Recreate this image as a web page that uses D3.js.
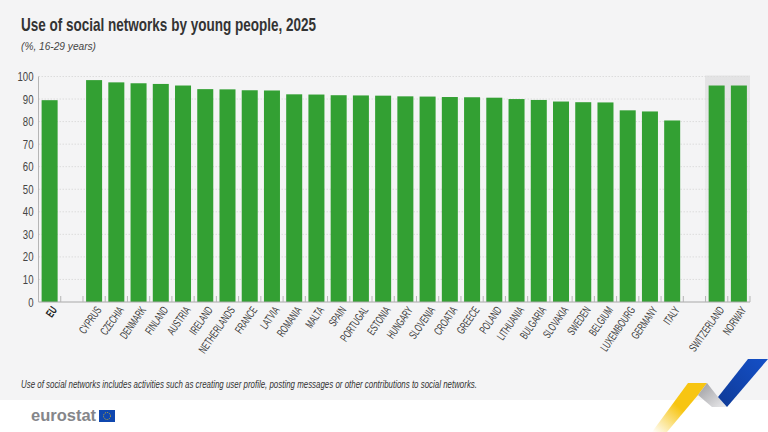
<!DOCTYPE html>
<html lang="en">
  <head>
    <meta charset="utf-8" />
    <title>Use of social networks by young people, 2025</title>
    <script src="https://d3js.org/d3.v7.min.js"></script>
    <style>
      body { margin: 0; background: #fff; }
      svg { display: block; font-family: "Liberation Sans", sans-serif; }
      .y-axis path, .y-axis line { display: none; }
      .x-axis path, .x-axis line { display: none; }
      .y-axis text { font-size: 12px; fill: #444; }
      .x-axis text { font-size: 11.5px; fill: #3c3c3c; }
    </style>
  </head>
  <body>
    <div id="chart"></div>
    <script>
      /* ---- data ---- */
      const categories = ['EU', '', 'CYPRUS', 'CZECHIA', 'DENMARK', 'FINLAND', 'AUSTRIA', 'IRELAND',
        'NETHERLANDS', 'FRANCE', 'LATVIA', 'ROMANIA', 'MALTA', 'SPAIN', 'PORTUGAL', 'ESTONIA',
        'HUNGARY', 'SLOVENIA', 'CROATIA', 'GREECE', 'POLAND', 'LITHUANIA', 'BULGARIA', 'SLOVAKIA',
        'SWEDEN', 'BELGIUM', 'LUXEMBOURG', 'GERMANY', 'ITALY', ' ', 'SWITZERLAND', 'NORWAY'];
      const values = [89.5, null, 98.4, 97.4, 97, 96.7, 96, 94.4,
        94.3, 93.9, 93.8, 92.1, 92, 91.7, 91.6, 91.5,
        91.2, 91.1, 90.9, 90.8, 90.6, 90, 89.6, 88.9,
        88.6, 88.5, 85, 84.5, 80.5, null, 96, 96];
      const yTicks = [0, 10, 20, 30, 40, 50, 60, 70, 80, 90, 100];
      const nonEu = ['SWITZERLAND', 'NORWAY'];

      const svgW = 768, svgH = 432;
      const svg = d3.select('#chart').append('svg').attr('width', svgW).attr('height', svgH);

      const defs = svg.append('defs');
      function grad(id, x1, y1, x2, y2, stops) {
        const g = defs.append('linearGradient').attr('id', id)
          .attr('x1', x1).attr('y1', y1).attr('x2', x2).attr('y2', y2);
        stops.forEach(s => g.append('stop').attr('offset', s[0]).attr('stop-color', s[1]).attr('stop-opacity', s[2]));
      }
      grad('gold', 1, 0, 0, 1, [[0, '#f7c512', 1], [0.5, '#f7c512', 1], [1, '#f7c512', 0]]);
      grad('grey', 0, 0, 1, 1, [[0, '#9a9a9e', 1], [1, '#ececee', 1]]);
      grad('blue', 1, 0, 0, 1, [[0, '#1450c8', 1], [1, '#0f3a96', 1]]);
      grad('band', 0, 0, 0, 1, [[0, '#e3e3e4', 1], [0.35, '#e9e9ea', 1], [1, '#f1f1f2', 1]]);

      /* background panel */
      svg.append('rect').attr('width', svgW).attr('height', 400).attr('fill', '#f4f4f5');

      /* ---- scales ---- */
      const x = d3.scaleBand().domain(categories).range([38.5, 750]).paddingInner(0.28).paddingOuter(0.14);
      const y = d3.scaleLinear().domain([0, 100]).range([302, 76.5]);
      const step = x.step();
      const edge = i => 38.5 + i * step;

      /* grey band behind non-EU countries */
      svg.append('rect')
        .attr('x', edge(categories.indexOf(nonEu[0])) - 0.5)
        .attr('y', y(100) - 1)
        .attr('width', 750 - edge(categories.indexOf(nonEu[0])) + 0.5)
        .attr('height', y(0) - y(100) + 1)
        .attr('fill', 'url(#band)');

      /* gridlines */
      svg.append('g').selectAll('line')
        .data(yTicks.filter(d => d > 0))
        .join('line')
        .attr('x1', 38.5).attr('x2', 750)
        .attr('y1', d => y(d)).attr('y2', d => y(d))
        .attr('stroke', '#dcdcdc').attr('stroke-dasharray', '1.5,1.5');

      /* bars */
      svg.append('g').selectAll('rect')
        .data(categories.map((c, i) => ({ c, v: values[i] })).filter(d => d.v !== null))
        .join('rect')
        .attr('x', d => x(d.c))
        .attr('width', x.bandwidth())
        .attr('y', d => y(d.v))
        .attr('height', d => y(0) - y(d.v))
        .attr('fill', '#33a033');

      /* axes */
      svg.append('g').attr('class', 'y-axis')
        .attr('transform', 'translate(38.5,0)')
        .call(d3.axisLeft(y).tickValues(yTicks).tickSize(0))
        .selectAll('text')
        .attr('x', 0)
        .attr('dy', '0.34em')
        .attr('transform', 'translate(-5,0) scale(0.8,1)');
      svg.append('line').attr('x1', 38.5).attr('x2', 38.5).attr('y1', y(100)).attr('y2', y(0))
        .attr('stroke', '#b5b5b5').attr('stroke-width', 1);
      svg.append('line').attr('x1', 38.5).attr('x2', 750).attr('y1', y(0)).attr('y2', y(0))
        .attr('stroke', '#a8a8a8').attr('stroke-width', 1);

      /* little ticks between the categories */
      svg.append('g').selectAll('line')
        .data(d3.range(categories.length + 1))
        .join('line')
        .attr('x1', i => edge(i)).attr('x2', i => edge(i))
        .attr('y1', 296).attr('y2', 302)
        .attr('stroke', '#b5b5b5');

      const xAxis = svg.append('g').attr('class', 'x-axis')
        .attr('transform', 'translate(0,302)')
        .call(d3.axisBottom(x).tickSize(0).tickPadding(0));
      // tick groups already sit on the band centre
      xAxis.selectAll('text')
        .attr('text-anchor', 'end')
        .attr('dy', 0).attr('y', 0)
        .attr('transform', 'translate(8,8) rotate(-55) scale(0.63,1)')
        .attr('font-weight', d => d === 'EU' ? 700 : 400)
        .style('fill', d => d === 'EU' ? '#222' : '#3c3c3c');

      /* condensed text: the installed fonts have no narrow cut, so squeeze to the measured width */
      function squeezed(str, px, py, width) {
        return svg.append('text').attr('x', px).attr('y', py)
          .attr('textLength', width).attr('lengthAdjust', 'spacingAndGlyphs').text(str);
      }
      squeezed('Use of social networks by young people, 2025', 21, 31, 295)
        .attr('font-size', 19).attr('font-weight', 700).attr('fill', '#333');
      squeezed('(%, 16-29 years)', 21, 50, 75)
        .attr('font-size', 11.5).attr('font-style', 'italic').attr('fill', '#444');
      squeezed('Use of social networks includes activities such as creating user profile, posting messages or other contributions to social networks.', 21, 388, 456)
        .attr('font-size', 11).attr('font-style', 'italic').attr('fill', '#333');

      /* eurostat logo */
      svg.append('text').attr('x', 31).attr('y', 421)
        .attr('font-size', 16.5).attr('font-weight', 700).attr('fill', '#85868a')
        .text('eurostat');
      svg.append('rect').attr('x', 99).attr('y', 410).attr('width', 16).attr('height', 12).attr('fill', '#0f47af');
      svg.append('circle').attr('cx', 107).attr('cy', 416).attr('r', 3.5)
        .attr('fill', 'none').attr('stroke', '#f7c512').attr('stroke-width', 0.8).attr('stroke-dasharray', '1,1');

      /* ribbon in the corner */
      svg.append('polygon').attr('points', '688,383 707,383 698,395 667,432 652,432').attr('fill', 'url(#gold)');
      svg.append('polygon').attr('points', '707,383 718,397 727,407 712,407 698,395').attr('fill', 'url(#grey)');
      svg.append('polygon').attr('points', '748,359 768,359 727,407 718,397').attr('fill', 'url(#blue)');
    </script>
  </body>
</html>
